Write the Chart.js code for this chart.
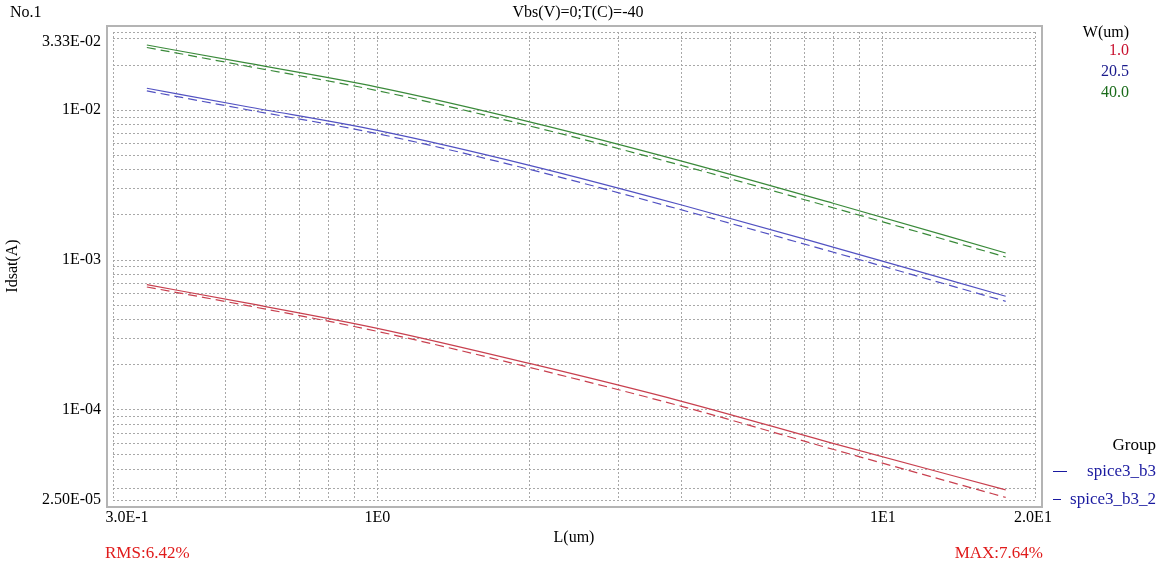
<!DOCTYPE html>
<html>
<head>
<meta charset="utf-8">
<script src="https://cdn.jsdelivr.net/npm/chart.js@4/dist/chart.umd.min.js"></script>
<style>
  body { margin: 0; background: #fff; }
  #wrap { width: 1164px; height: 568px; }
</style>
</head>
<body>
<div id="wrap"><canvas id="myChart" width="1164" height="568"></canvas></div>
<script>
// L (um) mérési pontok
const lengthUm = [0.35, 0.55, 1.0, 2.0, 4.0, 8.0, 17.5];

// Idsat (A) - spice3_b3 (folytonos) és spice3_b3_2 (szaggatott)
const idsatW1 = [6.85e-4, 5.17e-4, 3.50e-4, 2.04e-4, 1.14e-4, 5.95e-5, 2.92e-5];
const idsatW1b = [6.61e-4, 4.98e-4, 3.34e-4, 1.92e-4, 1.055e-4, 5.43e-5, 2.60e-5];
const idsatW20 = [1.403e-2, 1.059e-2, 7.34e-3, 4.29e-3, 2.33e-3, 1.215e-3, 5.73e-4];
const idsatW20b = [1.346e-2, 1.012e-2, 6.98e-3, 4.03e-3, 2.16e-3, 1.125e-3, 5.30e-4];
const idsatW40 = [2.727e-2, 2.069e-2, 1.427e-2, 8.37e-3, 4.58e-3, 2.386e-3, 1.114e-3];
const idsatW40b = [2.625e-2, 1.975e-2, 1.352e-2, 7.86e-3, 4.28e-3, 2.227e-3, 1.048e-3];

// W értékek (jelmagyarázat)
const widthLabels = ['1.0', '20.5', '40.0'];

// Rácsvonalak és tengelyfeliratok
const xGridValues = [0.3, 0.4, 0.5, 0.6, 0.7, 0.8, 0.9, 1, 2, 3, 4, 5, 6, 7, 8, 9, 10, 20];
const xLabelValues = [0.3, 1, 10, 20];
const xLabelTexts = ['3.0E-1', '1E0', '1E1', '2.0E1'];
const yGridValues = [2.5e-5, 3e-5, 4e-5, 5e-5, 6e-5, 7e-5, 8e-5, 9e-5,
  1e-4, 2e-4, 3e-4, 4e-4, 5e-4, 6e-4, 7e-4, 8e-4, 9e-4,
  1e-3, 2e-3, 3e-3, 4e-3, 5e-3, 6e-3, 7e-3, 8e-3, 9e-3,
  1e-2, 2e-2, 3e-2, 3.33e-2];
const yLabelValues = [2.5e-5, 1e-4, 1e-3, 1e-2, 3.33e-2];
const yLabelTexts = ['2.50E-05', '1E-04', '1E-03', '1E-02', '3.33E-02'];

const RED = '#c8404f', BLUE = '#5252c2', GREEN = '#3a8a3a';
const FONT = 'Liberation Serif, Times New Roman, serif';

function pts(ys) {
    return lengthUm.map((x, i) => ({ x: x, y: ys[i] }));
}

function findIndex(v, values) {
    for (let i = 0; i < values.length; i++) {
        if (Math.abs(v - values[i]) / values[i] < 1e-6) return i;
    }
    return -1;
}

function line(label, data, color, dashed) {
    return {
        label: label,
        data: pts(data),
        borderColor: color,
        borderWidth: 1.2,
        borderDash: dashed ? [9, 5] : [],
        pointRadius: 0,
        fill: false,
        cubicInterpolationMode: 'monotone'
    };
}

// Keret és extra feliratok
const extras = {
    id: 'extras',
    beforeDraw(chart) {
        const ctx = chart.ctx;
        ctx.save();
        ctx.strokeStyle = '#b4b4b4';
        ctx.lineWidth = 2;
        ctx.strokeRect(107, 26, 935, 481);
        ctx.restore();
    },
    afterDraw(chart) {
        const ctx = chart.ctx;
        ctx.save();
        ctx.font = '16px ' + FONT;
        ctx.textBaseline = 'middle';

        ctx.fillStyle = '#000';
        ctx.textAlign = 'left';
        ctx.fillText('No.1', 10, 13);
        ctx.textAlign = 'center';
        ctx.fillText('Vbs(V)=0;T(C)=-40', 578, 13);

        ctx.textAlign = 'right';
        ctx.fillText('W(um)', 1129, 33);
        const wColors = ['#c8102e', '#1a1a8c', '#1a6b1a'];
        const wY = [51, 72, 93];
        widthLabels.forEach((t, i) => {
            ctx.fillStyle = wColors[i];
            ctx.fillText(t, 1129, wY[i]);
        });

        ctx.font = '17px ' + FONT;
        ctx.fillStyle = '#000';
        ctx.fillText('Group', 1156, 446);
        ctx.fillStyle = '#1a1aa0';
        ctx.fillText('spice3_b3', 1156, 472);
        ctx.fillText('spice3_b3_2', 1156, 500);
        ctx.strokeStyle = '#1a1aa0';
        ctx.lineWidth = 1;
        ctx.beginPath();
        ctx.moveTo(1053, 471.5); ctx.lineTo(1067, 471.5);
        ctx.moveTo(1053, 499.5); ctx.lineTo(1061, 499.5);
        ctx.stroke();

        ctx.fillStyle = '#e01b1b';
        ctx.textAlign = 'left';
        ctx.fillText('RMS:6.42%', 105, 554);
        ctx.textAlign = 'right';
        ctx.fillText('MAX:7.64%', 1043, 554);
        ctx.restore();
    }
};

const gridOpts = { color: '#a8a8a8', lineWidth: 1, drawTicks: false };
const borderOpts = { display: false, dash: [2, 2] };

const ctx = document.getElementById('myChart').getContext('2d');
const chart = new Chart(ctx, {
    type: 'line',
    data: {
        datasets: [
            line('W=1.0 spice3_b3', idsatW1, RED, false),
            line('W=1.0 spice3_b3_2', idsatW1b, RED, true),
            line('W=20.5 spice3_b3', idsatW20, BLUE, false),
            line('W=20.5 spice3_b3_2', idsatW20b, BLUE, true),
            line('W=40.0 spice3_b3', idsatW40, GREEN, false),
            line('W=40.0 spice3_b3_2', idsatW40b, GREEN, true)
        ]
    },
    options: {
        responsive: false,
        animation: false,
        layout: { padding: { top: 32, right: 129, bottom: 0, left: 0 } },
        plugins: {
            legend: { display: false },
            tooltip: { enabled: false }
        },
        scales: {
            x: {
                type: 'logarithmic',
                min: 0.3,
                max: 20,
                grid: gridOpts,
                border: borderOpts,
                afterBuildTicks: (s) => { s.ticks = xGridValues.map(v => ({ value: v })); },
                afterFit: (s) => { s.height = 68; },
                ticks: {
                    autoSkip: false,
                    maxRotation: 0,
                    padding: 8,
                    color: '#000',
                    font: { family: FONT, size: 16 },
                    callback: (v) => {
                        const i = findIndex(v, xLabelValues);
                        if (i < 0) return '';
                        // az első felirat jobbra tolva, mint az eredetin
                        if (i === 0) return '       ' + xLabelTexts[i];
                        if (i === xLabelTexts.length - 1) return xLabelTexts[i] + ' ';
                        return xLabelTexts[i];
                    }
                },
                title: {
                    display: true,
                    text: 'L(um)',
                    color: '#000',
                    font: { family: FONT, size: 16 },
                    padding: { top: 0, bottom: 21 }
                }
            },
            y: {
                type: 'logarithmic',
                min: 2.5e-5,
                max: 3.33e-2,
                grid: gridOpts,
                border: borderOpts,
                afterBuildTicks: (s) => { s.ticks = yGridValues.map(v => ({ value: v })); },
                afterFit: (s) => { s.width = 113; },
                ticks: {
                    autoSkip: false,
                    padding: 12,
                    color: '#000',
                    font: { family: FONT, size: 16 },
                    callback: (v) => {
                        const i = findIndex(v, yLabelValues);
                        if (i < 0) return '';
                        // a felső felirat a vonal alatt áll
                        if (i === yLabelTexts.length - 1) return ['', yLabelTexts[i]];
                        return yLabelTexts[i];
                    }
                },
                title: {
                    display: true,
                    text: 'Idsat(A)',
                    color: '#000',
                    font: { family: FONT, size: 16 },
                    padding: { top: 3, bottom: 0 }
                }
            }
        }
    },
    plugins: [extras]
});
</script>
</body>
</html>
